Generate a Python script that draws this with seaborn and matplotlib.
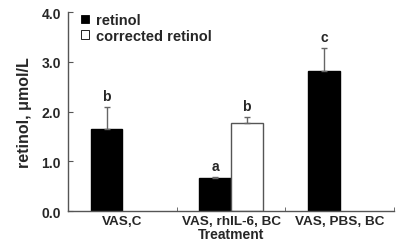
import numpy as np
import pandas as pd
import matplotlib
matplotlib.use("Agg")
import matplotlib.pyplot as plt
import seaborn as sns

categories = ["VAS,C", "VAS, rhIL-6, BC", "VAS, PBS, BC"]
series = ["retinol", "corrected retinol"]
retinol = [1.65, 0.66, 2.81]
retinol_err = [0.45, 0.03, 0.47]
corrected = [np.nan, 1.77, np.nan]
corrected_err = [np.nan, 0.12, np.nan]
letters_retinol = ["b", "a", "c"]
letters_corrected = [None, "b", None]

rows = []
for i, c in enumerate(categories):
    rows.append([c, "retinol", retinol[i], retinol_err[i], letters_retinol[i]])
    rows.append([c, "corrected retinol", corrected[i], corrected_err[i], letters_corrected[i]])
df = pd.DataFrame(rows, columns=["treatment", "series", "value", "err", "letter"])
df = df.dropna(subset=["value"])

sns.set_style("ticks")
plt.rcParams["font.family"] = ["Liberation Sans", "DejaVu Sans"]
plt.rcParams["font.weight"] = "bold"

fig = plt.figure(figsize=(4, 2.51), dpi=100)
ax = fig.add_axes([0.17, 0.155, 0.815, 0.793])

sns.barplot(data=df, x="treatment", y="value", hue="series", order=categories,
            hue_order=series, palette={"retinol": "black", "corrected retinol": "white"},
            width=0.58, errorbar=None, ax=ax, legend=True)

edge = "#555555"
for cont, s in zip(ax.containers, series):
    sub = df[df["series"] == s].set_index("treatment").reindex(categories).dropna(subset=["value"])
    for bar, (_, r) in zip(cont, sub.iterrows()):
        bar.set_edgecolor(edge if s == "corrected retinol" else "black")
        bar.set_linewidth(1.0)
        xc = bar.get_x() + bar.get_width() / 2
        ax.errorbar(xc, r["value"], yerr=[[0], [r["err"]]], fmt="none",
                    ecolor="#666666", elinewidth=1.0, capsize=2, capthick=1.0)
        ax.text(xc, r["value"] + r["err"] + 0.08, r["letter"], ha="center", va="bottom",
                fontsize=10, fontweight="bold")

ax.set_xlim(-0.5, 2.5)
ax.set_ylim(0, 4.0)
ax.set_yticks([0, 1, 2, 3, 4])
ax.set_yticklabels(["0.0", "1.0", "2.0", "3.0", "4.0"], fontsize=10, fontweight="bold")
ax.set_xticks(range(3))
ax.set_xticklabels(categories, fontsize=9.7, fontweight="bold")
ax.tick_params(axis="x", length=0, pad=3)
ax.set_xticks([0.5, 1.5, 2.5], minor=True)
ax.tick_params(axis="x", which="minor", direction="in", length=3, color=edge)
ax.tick_params(axis="y", direction="in", length=3.5, color=edge, pad=5)
ax.set_xlabel("Treatment", fontsize=10, fontweight="bold", labelpad=0)
ax.set_ylabel("retinol, \u03bcmol/L", fontsize=11.5, fontweight="bold", labelpad=7)

for sp in ["top", "right"]:
    ax.spines[sp].set_visible(False)
for sp in ["left", "bottom"]:
    ax.spines[sp].set_color(edge)
    ax.spines[sp].set_linewidth(1.0)

handles, labels = ax.get_legend_handles_labels()
for h in handles:
    h.set_edgecolor("black")
    h.set_linewidth(0.6)
ax.legend(handles, labels, loc="upper left", bbox_to_anchor=(0.0, 1.06), frameon=False,
          handlelength=0.55, handleheight=0.55, handletextpad=0.5, labelspacing=0.1,
          prop={"size": 10.5, "weight": "bold"})

fig.savefig("out.png", dpi=100)
